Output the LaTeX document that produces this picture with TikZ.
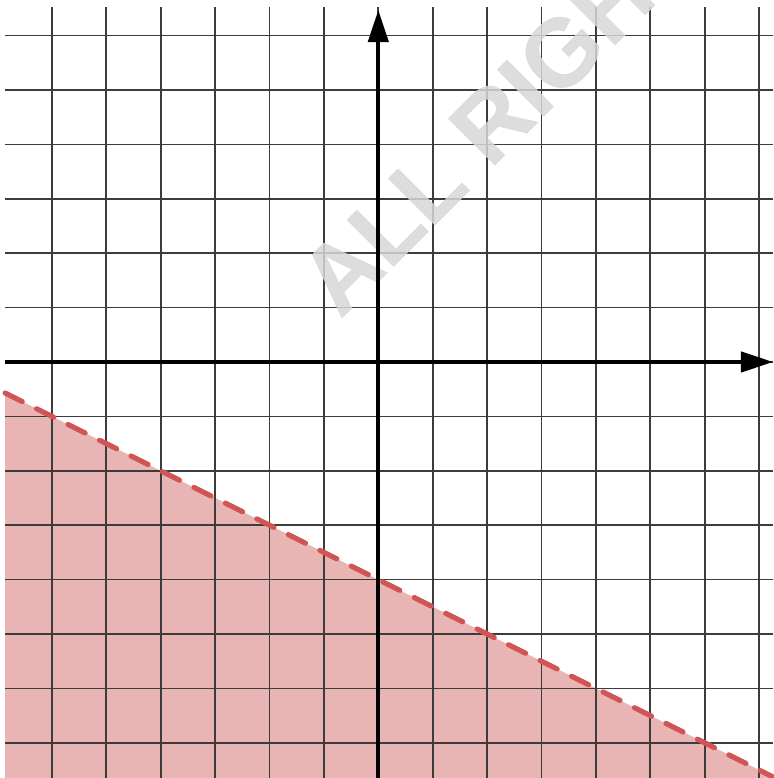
\documentclass[tikz,border=0pt]{standalone}
\usepackage{fontspec}
\setmainfont{Liberation Sans}
\newfontfamily\wmfont[FakeBold=0.6]{Liberation Sans}
\usetikzlibrary{arrows.meta}
\definecolor{shade}{RGB}{233,180,180}
\definecolor{bound}{RGB}{210,85,85}
\definecolor{gridc}{RGB}{60,60,60}
\definecolor{wmark}{RGB}{215,215,215}
\begin{document}
\begin{tikzpicture}[
  gridline/.style={draw=gridc, line width=0.9pt},
  axisline/.style={line width=2.1pt, -{Triangle[length=0.59cm,width=0.37cm]}},
  boundary/.style={draw=bound, line width=2.7pt, line cap=round, dash pattern=on 10pt off 8.4pt},
  region/.style={fill=shade},
  watermark/.style={text=wmark, opacity=0.85, font=\wmfont\bfseries\fontsize{50}{50}\selectfont, rotate=45, inner sep=0pt, anchor=base west}
]
\useasboundingbox (-6.954,-7.647) rectangle (7.256,6.654);
% named points
\coordinate (xl) at (-6.86,0);
\coordinate (xr) at (7.256,0);
\coordinate (yb) at (0,-7.647);
\coordinate (yt) at (0,6.47);
\coordinate (bl) at (-6.86,-0.57);
\coordinate (br) at (7.256,-7.628);
% shaded half-plane
\fill[region] (bl) -- (br) -- (7.256,-7.647) -- (-6.86,-7.647) -- cycle;
% grid
\foreach \x in {-6,...,7} \draw[gridline] (\x,-7.647) -- (\x,6.52);
\foreach \y in {-7,...,6} \draw[gridline] (-6.86,\y) -- (7.256,\y);
% watermark
\begin{scope}
\clip (-6.954,-7.647) rectangle (7.256,6.654);
\node[watermark] (wm) at (-0.704,0.772) {ALL RIGH};
\end{scope}
% boundary line
\draw[boundary] (bl) -- (br);
% axes
\draw[axisline] (xl) -- (xr);
\draw[axisline] (yb) -- (yt);
\end{tikzpicture}
\end{document}
